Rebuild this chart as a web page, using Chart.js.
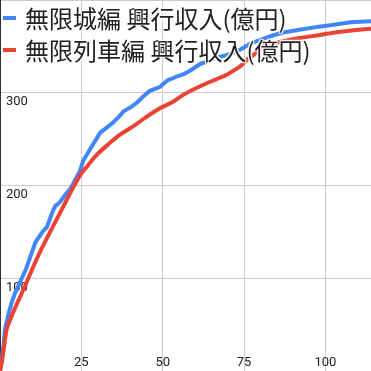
<!DOCTYPE html>
<html>
<head>
<meta charset="utf-8">
<script src="https://cdn.jsdelivr.net/npm/chart.js@4/dist/chart.umd.min.js"></script>
<style>
html,body{margin:0;padding:0;background:#fff;}
#wrap{position:relative;width:371px;height:371px;overflow:hidden;}
#c{position:absolute;left:0;top:0;}
#legend{position:absolute;left:0;top:0;font-family:"Noto Sans CJK JP","Noto Sans",sans-serif;font-size:24px;color:#222;}
.row{position:absolute;left:0;height:32px;line-height:32px;white-space:nowrap;}
.mark{position:absolute;left:3px;top:14px;width:13px;height:4px;}
.txt{position:absolute;left:25px;top:0;text-shadow:0 0 2px #fff,0 0 2px #fff,1px 1px 1px #fff,-1px -1px 1px #fff,1px -1px 1px #fff,-1px 1px 1px #fff;}
</style>
</head>
<body>
<div id="wrap">
<canvas id="c" width="371" height="371"></canvas>
<div id="legend"></div>
</div>
<script>
// Series labels
const seriesLabels = ['無限城編 興行収入(億円)', '無限列車編 興行収入(億円)'];
const seriesColors = ['#4285F4', '#EA4335'];

// 無限城編 (days since release, 億円)
const castleDays = [0, 1, 1.5, 2.5, 3.6, 4.6, 6.7, 8, 9.7, 10.8, 11.3, 13.3, 14.4, 16.3, 17, 18.4, 20, 21.5, 22.5, 24.6, 25.6, 28.7, 30.8, 33, 34.8, 36.5, 38, 40, 42, 44, 46, 49, 51.3, 54, 56.4, 58.5, 61.5, 64, 66.7, 69, 71.8, 74, 77, 80, 84, 87, 92, 97.5, 102, 107.7, 114];
const castleValues = [0, 25, 44, 60, 74, 84, 100, 110, 127, 138, 141, 151, 155, 173, 178, 182, 190, 196, 202, 216, 227, 245, 257, 263, 268, 274, 280, 284, 289, 296, 302, 306, 313, 317, 320, 324, 331, 334, 338, 340, 343, 347, 353, 357, 362, 365, 368, 371, 373, 376, 377];

// 無限列車編 (days since release, 億円)
const trainDays = [0, 0.5, 1, 2, 3.1, 4.5, 6.2, 8.7, 11.7, 15.4, 19.4, 22.5, 24.6, 26.6, 30, 33.8, 37, 41, 45, 49, 53, 56.4, 61.5, 66.7, 70, 71.8, 74, 76, 78, 80.6, 84, 87.7, 92, 97.8, 103, 108, 114];
const trainValues = [0, 8, 20, 44, 55, 67, 80, 100, 124, 150, 177, 198, 211, 220, 234, 246, 255, 264, 274, 283, 290, 298, 307, 315, 320, 324, 329, 336, 341, 350, 353, 356, 359, 362, 365, 367, 369];

// Axis ticks
const xTicks = [25, 50, 75, 100];
const yTicks = [100, 200, 300];

const toPts = (xs, ys) => xs.map((x, i) => ({x: x, y: ys[i]}));

const datasets = [
  {label: seriesLabels[0], data: toPts(castleDays, castleValues), borderColor: seriesColors[0], order: 1},
  {label: seriesLabels[1], data: toPts(trainDays, trainValues), borderColor: seriesColors[1], order: 0, cubicInterpolationMode: 'monotone'}
];

// HTML legend
const leg = document.getElementById('legend');
datasets.forEach((d, i) => {
  const row = document.createElement('div');
  row.className = 'row';
  row.style.top = (2 + i * 32) + 'px';
  const m = document.createElement('div');
  m.className = 'mark';
  m.style.background = d.borderColor;
  const t = document.createElement('span');
  t.className = 'txt';
  t.textContent = d.label;
  row.appendChild(m);
  row.appendChild(t);
  leg.appendChild(row);
});

const zeroPad = s => { s.paddingTop = 0; s.paddingBottom = 0; s.paddingLeft = 0; s.paddingRight = 0; };

new Chart(document.getElementById('c'), {
  type: 'line',
  data: {datasets: datasets},
  options: {
    responsive: false,
    animation: false,
    devicePixelRatio: 1,
    layout: {padding: 0},
    plugins: {legend: {display: false}, tooltip: {enabled: false}},
    elements: {
      point: {radius: 0},
      line: {borderWidth: 4, tension: 0, borderJoinStyle: 'round', borderCapStyle: 'round', fill: false}
    },
    scales: {
      x: {
        type: 'linear', min: 0, max: 114,
        border: {display: false},
        grid: {color: '#cccccc', drawTicks: false},
        afterFit: s => { s.height = 0; zeroPad(s); },
        ticks: {
          stepSize: 25, maxRotation: 0, autoSkip: false, mirror: true, padding: 0,
          color: '#222', font: {family: 'Roboto', size: 13},
          callback: v => xTicks.includes(v) ? String(v) : null
        }
      },
      y: {
        type: 'linear', min: 0, max: 400,
        border: {display: true, color: '#333333', width: 2},
        grid: {color: '#cccccc', drawTicks: false},
        afterFit: s => { s.width = 0; zeroPad(s); },
        ticks: {
          stepSize: 100, mirror: true, padding: 6, labelOffset: 9,
          color: '#222', font: {family: 'Roboto', size: 13},
          callback: v => yTicks.includes(v) ? String(v) : (v === 400 ? '' : null)
        }
      }
    }
  }
});
</script>
</body>
</html>
